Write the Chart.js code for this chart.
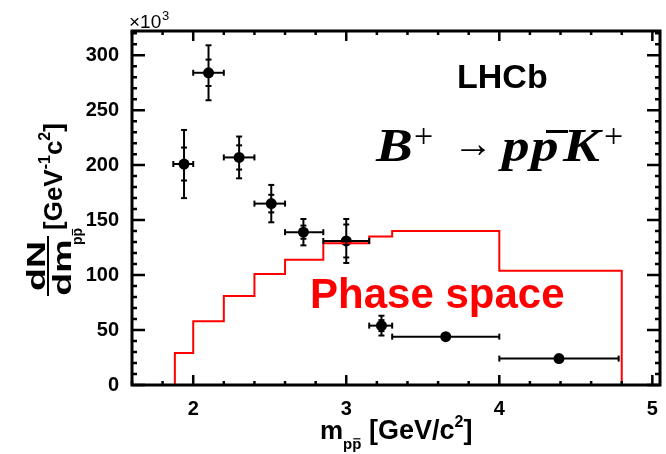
<!DOCTYPE html>
<html>
<head>
<meta charset="utf-8">
<script src="https://cdn.jsdelivr.net/npm/chart.js@4.4.1/dist/chart.umd.min.js"></script>
<style>
  body { margin: 0; background: #fff; }
  canvas { display: block; }
</style>
</head>
<body>
<canvas id="chart" width="666" height="454"></canvas>
<script>
// Measured points (yield in units of 10^3 per GeV/c^2)
const binLow = [1.87, 2.0, 2.2, 2.4, 2.6, 2.85, 3.15, 3.3, 4.0];
const binHigh = [2.0, 2.2, 2.4, 2.6, 2.85, 3.15, 3.3, 4.0, 4.78];
const massCenters = [1.94, 2.10, 2.30, 2.51, 2.72, 3.0, 3.23, 3.65, 4.39];
const yields = [201, 284, 207, 165, 139, 131, 54, 44, 24];
const totalErr = [31, 25, 19, 17, 12, 20, 9, 0, 0];
const statErr = [15, 12, 11, 8, 6, 15, 5, 0, 0];

// Phase space histogram
const psEdges = [1.88, 2.0, 2.2, 2.4, 2.6, 2.85, 3.15, 3.3, 4.0, 4.8];
const psValues = [29, 58, 81, 101, 114, 129, 135, 140, 104];

// Axes
const xTickLabels = [2, 3, 4, 5];
const yTickLabels = [0, 50, 100, 150, 200, 250, 300];
const xRange = [1.6, 5.05];
const yRange = [0, 322];

const SANS = '"Liberation Sans", Arial, sans-serif';
const SERIF = '"Liberation Serif", "Times New Roman", serif';

// step histogram points
const psPoints = [{ x: psEdges[0], y: 0 }];
psValues.forEach((v, i) => psPoints.push({ x: psEdges[i], y: v }));
psPoints.push({ x: psEdges[psEdges.length - 1], y: 0 });

const dataPoints = massCenters.map((m, i) => ({ x: m, y: yields[i] }));

// Draw a "pp-bar" subscript, returns width
function drawPPbar(ctx, x, y, size) {
    ctx.font = `bold ${size}px ${SANS}`;
    const w = ctx.measureText('p').width;
    ctx.fillText('p', x, y);
    ctx.fillText('p', x + w, y);
    ctx.fillRect(x + w + 1, y - size * 0.72, w - 2, Math.max(1, size * 0.08));
    return 2 * w;
}

// wide glyph for the formula (the original uses a wider math font)
function wideText(ctx, txt, x, y) {
    ctx.save();
    ctx.translate(x, y);
    ctx.scale(1.2, 1);
    ctx.fillText(txt, 0, 0);
    ctx.restore();
}

// Error bars, frame, ticks and labels
const decorations = {
    id: 'decorations',
    afterDatasetsDraw(chart) {
        const ctx = chart.ctx;
        const xs = chart.scales.x, ys = chart.scales.y;
        ctx.save();
        ctx.strokeStyle = '#000';
        ctx.lineWidth = 2;
        const cap = 3;
        const line = (x1, y1, x2, y2) => {
            ctx.beginPath(); ctx.moveTo(x1, y1); ctx.lineTo(x2, y2); ctx.stroke();
        };
        massCenters.forEach((m, i) => {
            const px = xs.getPixelForValue(m);
            const py = ys.getPixelForValue(yields[i]);
            const xl = xs.getPixelForValue(binLow[i]);
            const xh = xs.getPixelForValue(binHigh[i]);
            line(xl, py, xh, py);
            line(xl, py - cap, xl, py + cap);
            line(xh, py - cap, xh, py + cap);
            if (totalErr[i] > 0) {
                const yt = ys.getPixelForValue(yields[i] + totalErr[i]);
                const yb = ys.getPixelForValue(yields[i] - totalErr[i]);
                line(px, yt, px, yb);
                line(px - cap, yt, px + cap, yt);
                line(px - cap, yb, px + cap, yb);
                const st = ys.getPixelForValue(yields[i] + statErr[i]);
                const sb = ys.getPixelForValue(yields[i] - statErr[i]);
                line(px - cap, st, px + cap, st);
                line(px - cap, sb, px + cap, sb);
            }
        });
        ctx.restore();
    },
    afterDraw(chart) {
        const ctx = chart.ctx;
        const a = chart.chartArea;
        const xs = chart.scales.x, ys = chart.scales.y;
        ctx.save();
        ctx.strokeStyle = '#000';
        ctx.fillStyle = '#000';

        // ticks on all four sides, pointing inwards
        ctx.lineWidth = 2.5;
        for (let i = Math.ceil(xs.min * 5); i <= Math.floor(xs.max * 5 + 1e-6); i++) {
            const px = xs.getPixelForValue(i / 5);
            const len = i % 5 === 0 ? 10 : 4;
            ctx.beginPath();
            ctx.moveTo(px, a.bottom); ctx.lineTo(px, a.bottom - len);
            ctx.moveTo(px, a.top); ctx.lineTo(px, a.top + len);
            ctx.stroke();
        }
        for (let i = 0; i * 10 <= ys.max; i++) {
            const py = ys.getPixelForValue(i * 10);
            const len = i % 5 === 0 ? 13 : 5;
            ctx.beginPath();
            ctx.moveTo(a.left, py); ctx.lineTo(a.left + len, py);
            ctx.moveTo(a.right, py); ctx.lineTo(a.right - len, py);
            ctx.stroke();
        }

        // frame
        ctx.lineWidth = 3;
        ctx.strokeRect(a.left, a.top, a.right - a.left, a.bottom - a.top);

        // x10^3 multiplier
        ctx.textAlign = 'left';
        ctx.textBaseline = 'alphabetic';
        ctx.font = `19px ${SANS}`;
        ctx.fillText('\u00d710', 129, 28);
        ctx.font = `13px ${SANS}`;
        ctx.fillText('3', 129 + ctx.measureText('\u00d710').width + 11, 20);

        // x title
        let x = 320;
        ctx.font = `bold 26px ${SANS}`;
        ctx.fillText('m', x, 439);
        x += ctx.measureText('m').width;
        x += drawPPbar(ctx, x, 449, 15);
        ctx.font = `bold 27px ${SANS}`;
        ctx.fillText(' [GeV/c', x, 439);
        x += ctx.measureText(' [GeV/c').width;
        ctx.font = `bold 16px ${SANS}`;
        ctx.fillText('2', x, 427);
        x += ctx.measureText('2').width;
        ctx.font = `bold 27px ${SANS}`;
        ctx.fillText(']', x, 439);

        // y title (rotated)
        ctx.save();
        ctx.translate(48, 266);
        ctx.rotate(-Math.PI / 2);
        ctx.textAlign = 'center';
        ctx.font = `bold 25px ${SANS}`;
        ctx.save(); ctx.scale(1.5, 1); ctx.fillText('dN', 0, -3); ctx.restore();
        ctx.fillRect(-30, -1, 60, 2);
        ctx.save(); ctx.scale(1.5, 1); ctx.fillText('dm', -1, 23); ctx.restore();
        ctx.textAlign = 'left';
        drawPPbar(ctx, 21, 34, 14);
        let u = 36;
        ctx.font = `bold 26px ${SANS}`;
        ctx.fillText('[GeV', u, 14);
        u += ctx.measureText('[GeV').width;
        ctx.font = `bold 16px ${SANS}`;
        ctx.fillText('-1', u, 2);
        u += ctx.measureText('-1').width;
        ctx.font = `bold 26px ${SANS}`;
        ctx.fillText('c', u, 14);
        u += ctx.measureText('c').width;
        ctx.font = `bold 16px ${SANS}`;
        ctx.fillText('2', u, 2);
        u += ctx.measureText('2').width;
        ctx.font = `bold 26px ${SANS}`;
        ctx.fillText(']', u, 14);
        ctx.restore();

        // LHCb label
        ctx.textAlign = 'left';
        ctx.font = `bold 34px ${SANS}`;
        ctx.fillText('LHCb', 457, 88);

        // decay formula, pieces placed to match the original typesetting
        const big = `italic bold 46px ${SERIF}`;
        const plus = `34px ${SERIF}`;
        ctx.font = big;
        wideText(ctx, 'B', 376, 161);
        ctx.font = plus;
        ctx.fillText('+', 414, 147);
        ctx.font = `40px ${SERIF}`;
        ctx.fillText('\u2192', 453, 157);
        ctx.font = big;
        wideText(ctx, 'p', 502, 161);
        wideText(ctx, 'p', 531, 161);
        ctx.fillRect(546, 130, 22, 3);
        wideText(ctx, 'K', 563, 161);
        ctx.font = plus;
        ctx.fillText('+', 604, 147);

        // phase space label
        ctx.fillStyle = '#ff0000';
        ctx.font = `bold 42px ${SANS}`;
        ctx.fillText('Phase space', 310, 308);
        ctx.restore();
    }
};

new Chart(document.getElementById('chart'), {
    type: 'scatter',
    data: {
        datasets: [{
            label: 'Phase space',
            data: psPoints,
            showLine: true,
            stepped: 'before',
            borderColor: '#ff0000',
            borderWidth: 2,
            pointRadius: 0,
            fill: false
        }, {
            label: 'Data',
            data: dataPoints,
            pointRadius: 5.5,
            pointBackgroundColor: '#000',
            pointBorderColor: '#000',
            pointBorderWidth: 0
        }]
    },
    options: {
        responsive: false,
        animation: false,
        layout: { padding: { top: 31, right: 6, left: 0, bottom: 0 } },
        plugins: {
            legend: { display: false },
            tooltip: { enabled: false }
        },
        scales: {
            x: {
                type: 'linear',
                min: xRange[0],
                max: xRange[1],
                grid: { display: false },
                border: { display: false },
                afterBuildTicks: s => { s.ticks = xTickLabels.map(v => ({ value: v })); },
                afterFit: s => { s.height = 69; },
                ticks: {
                    padding: 4,
                    color: '#000',
                    font: { family: SANS, size: 20, weight: 'bold' }
                }
            },
            y: {
                min: yRange[0],
                max: yRange[1],
                grid: { display: false },
                border: { display: false },
                afterBuildTicks: s => { s.ticks = yTickLabels.map(v => ({ value: v })); },
                afterFit: s => { s.width = 132; },
                ticks: {
                    padding: 5,
                    color: '#000',
                    font: { family: SANS, size: 20, weight: 'bold' }
                }
            }
        }
    },
    plugins: [decorations]
});
</script>
</body>
</html>
